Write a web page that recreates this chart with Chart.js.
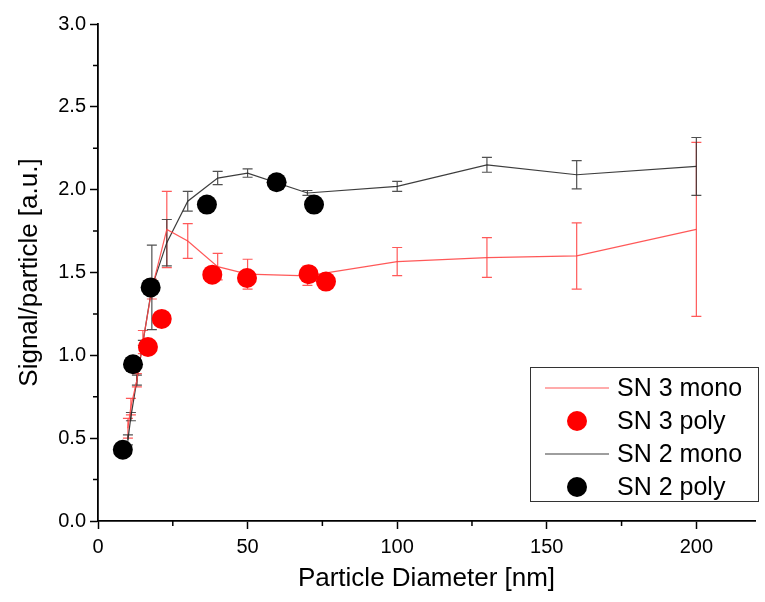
<!DOCTYPE html>
<html>
<head>
<meta charset="utf-8">
<script src="https://cdn.jsdelivr.net/npm/chart.js@4.4.1/dist/chart.umd.min.js"></script>
<style>
  html, body { margin: 0; padding: 0; background: #fff; overflow: hidden; }
  #wrap { width: 765px; height: 602px; }
  canvas { display: block; }
</style>
</head>
<body>
<div id="wrap"><canvas id="chart" width="765" height="602"></canvas></div>
<script>
// Data
const diameters = [10, 11, 13, 15, 18, 23, 30, 40, 50, 70, 100, 130, 160, 200];

const sn3Mono    = [0.56, 0.69, 0.85, 1.08, 1.40, 1.76, 1.69, 1.535, 1.49, 1.48, 1.566, 1.59, 1.60, 1.76];
const sn3MonoErr = [0.06, 0.05, 0.04, 0.07, 0.06, 0.23, 0.105, 0.08, 0.09, 0.058, 0.085, 0.12, 0.20, 0.525];

const sn2Mono    = [0.49, 0.63, 0.85, 1.075, 1.41, 1.68, 1.93, 2.07, 2.10, 1.98, 2.02, 2.15, 2.09, 2.14];
const sn2MonoErr = [0.03, 0.025, 0.03, 0.015, 0.255, 0.14, 0.06, 0.04, 0.025, 0.015, 0.03, 0.045, 0.085, 0.175];

const sn3PolyX = [16.7, 21.3, 38.2, 49.8, 70.4, 76.2];
const sn3PolyY = [1.05, 1.22, 1.487, 1.467, 1.49, 1.445];

const sn2PolyX = [8.3, 11.7, 17.6, 36.4, 59.7, 72.2];
const sn2PolyY = [0.43, 0.946, 1.41, 1.91, 2.045, 1.91];

const xTicks = [0, 50, 100, 150, 200];
const yTicks = [0, 0.5, 1.0, 1.5, 2.0, 2.5, 3.0];

const FONT = "'Liberation Sans', Arial, sans-serif";

function toPoints(xs, ys) {
    return xs.map((x, i) => ({ x: x, y: ys[i] }));
}

// Error bars drawn under the lines and markers
const errorBars = {
    id: 'errorBars',
    beforeDatasetsDraw(chart) {
        const ctx = chart.ctx;
        const xs = chart.scales.x;
        const ys = chart.scales.y;
        chart.data.datasets.forEach(ds => {
            if (!ds.errors) return;
            ctx.save();
            ctx.strokeStyle = ds.errColor;
            ctx.lineWidth = 1.2;
            ds.data.forEach((p, i) => {
                const e = ds.errors[i];
                const px = xs.getPixelForValue(p.x);
                const top = ys.getPixelForValue(p.y + e);
                const bot = ys.getPixelForValue(p.y - e);
                ctx.beginPath();
                ctx.moveTo(px, top);
                ctx.lineTo(px, bot);
                ctx.moveTo(px - 5, top);
                ctx.lineTo(px + 5, top);
                ctx.moveTo(px - 5, bot);
                ctx.lineTo(px + 5, bot);
                ctx.stroke();
            });
            ctx.restore();
        });
    }
};

// Minor ticks (half steps) on both axes
const minorTicks = {
    id: 'minorTicks',
    afterDraw(chart) {
        const ctx = chart.ctx;
        const xs = chart.scales.x;
        const ys = chart.scales.y;
        const area = chart.chartArea;
        ctx.save();
        ctx.strokeStyle = '#000';
        ctx.lineWidth = 1.5;
        ctx.beginPath();
        for (let v = 0.25; v < 3; v += 0.5) {
            const py = ys.getPixelForValue(v);
            ctx.moveTo(area.left, py);
            ctx.lineTo(area.left - 5, py);
        }
        for (let v = 25; v < xs.max; v += 50) {
            const px = xs.getPixelForValue(v);
            ctx.moveTo(px, area.bottom);
            ctx.lineTo(px, area.bottom + 5);
        }
        ctx.stroke();
        ctx.restore();
    }
};

// Legend box inside the plot, bottom right
const boxLegend = {
    id: 'boxLegend',
    afterDraw(chart) {
        const ctx = chart.ctx;
        const area = chart.chartArea;
        const right = area.right + 3;
        const bottom = area.bottom - 20;
        const w = 228, h = 134;
        const left = right - w, top = bottom - h;
        ctx.save();
        ctx.fillStyle = '#fff';
        ctx.fillRect(left, top, w, h);
        ctx.strokeStyle = '#333';
        ctx.lineWidth = 1;
        ctx.strokeRect(left + 0.5, top + 0.5, w, h);
        ctx.font = '25px ' + FONT;
        ctx.textBaseline = 'middle';
        chart.data.datasets.forEach((ds, i) => {
            const cy = top + 21 + i * 33;
            if (ds.showLine) {
                ctx.strokeStyle = ds.borderColor;
                ctx.lineWidth = 1.2;
                ctx.beginPath();
                ctx.moveTo(left + 15, cy);
                ctx.lineTo(left + 79, cy);
                ctx.stroke();
            } else {
                ctx.fillStyle = ds.backgroundColor;
                ctx.beginPath();
                ctx.arc(left + 47, cy, 10, 0, Math.PI * 2);
                ctx.fill();
            }
            ctx.fillStyle = '#000';
            ctx.fillText(ds.label, left + 87, cy + 1);
        });
        ctx.restore();
    }
};

const ctx = document.getElementById('chart').getContext('2d');

new Chart(ctx, {
    type: 'scatter',
    data: {
        datasets: [
            {
                label: 'SN 3 mono',
                data: toPoints(diameters, sn3Mono),
                errors: sn3MonoErr,
                errColor: 'rgba(255, 60, 60, 0.85)',
                showLine: true,
                borderColor: 'rgba(255, 70, 70, 0.9)',
                borderWidth: 1.2,
                pointRadius: 0,
                tension: 0,
                order: 2
            },
            {
                label: 'SN 3 poly',
                data: toPoints(sn3PolyX, sn3PolyY),
                showLine: false,
                backgroundColor: '#ff0000',
                borderColor: '#ff0000',
                pointRadius: 10,
                pointBorderWidth: 0,
                order: 1
            },
            {
                label: 'SN 2 mono',
                data: toPoints(diameters, sn2Mono),
                errors: sn2MonoErr,
                errColor: 'rgba(50, 50, 50, 0.85)',
                showLine: true,
                borderColor: 'rgba(40, 40, 40, 0.9)',
                borderWidth: 1.2,
                pointRadius: 0,
                tension: 0,
                order: 2
            },
            {
                label: 'SN 2 poly',
                data: toPoints(sn2PolyX, sn2PolyY),
                showLine: false,
                backgroundColor: '#000000',
                borderColor: '#000000',
                pointRadius: 10,
                pointBorderWidth: 0,
                order: 0
            }
        ]
    },
    options: {
        responsive: false,
        animation: false,
        layout: {
            padding: { top: 24, right: 2, left: 0, bottom: 0 }
        },
        plugins: {
            legend: { display: false },
            tooltip: { enabled: false }
        },
        scales: {
            x: {
                type: 'linear',
                min: 0,
                max: 219.6,
                afterBuildTicks: scale => {
                    scale.ticks = xTicks.map(v => ({ value: v }));
                },
                afterFit: scale => { scale.height = 81; },
                ticks: {
                    color: '#000',
                    font: { family: FONT, size: 20 },
                    padding: 6,
                    maxRotation: 0,
                    callback: v => String(v)
                },
                grid: {
                    drawOnChartArea: false,
                    drawTicks: true,
                    tickLength: 8,
                    tickColor: '#000',
                    tickWidth: 1.5
                },
                border: { display: true, color: '#000', width: 1.8 },
                title: {
                    display: true,
                    text: 'Particle Diameter [nm]',
                    color: '#000',
                    font: { family: FONT, size: 26 },
                    padding: { top: 4, bottom: 8 }
                }
            },
            y: {
                type: 'linear',
                min: 0,
                max: 3,
                afterBuildTicks: scale => {
                    scale.ticks = yTicks.map(v => ({ value: v }));
                },
                afterFit: scale => { scale.width = 98; },
                ticks: {
                    color: '#000',
                    font: { family: FONT, size: 20 },
                    padding: 4,
                    callback: v => Number(v).toFixed(1)
                },
                grid: {
                    drawOnChartArea: false,
                    drawTicks: true,
                    tickLength: 8,
                    tickColor: '#000',
                    tickWidth: 1.5
                },
                border: { display: true, color: '#000', width: 1.8 },
                title: {
                    display: true,
                    text: 'Signal/particle [a.u.]',
                    color: '#000',
                    font: { family: FONT, size: 26 },
                    padding: { top: 14, bottom: 4 }
                }
            }
        }
    },
    plugins: [errorBars, minorTicks, boxLegend]
});
</script>
</body>
</html>
